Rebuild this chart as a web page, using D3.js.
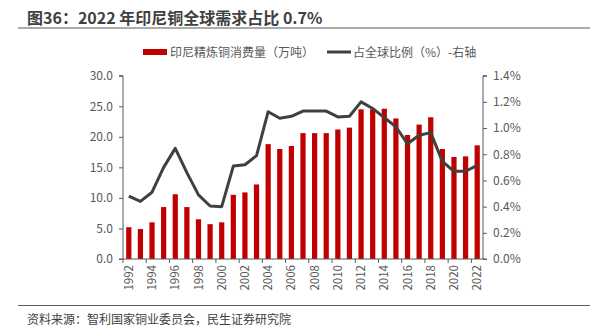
<!DOCTYPE html>
<html lang="zh">
<head>
<meta charset="UTF-8">
<title>图36</title>
<style>
  body { margin: 0; padding: 0; background: #fff; }
  svg { display: block; font-family: "Noto Sans CJK SC", "Noto Sans", sans-serif; }
</style>
</head>
<body>
<svg id="chart"></svg>
<script src="https://d3js.org/d3.v7.min.js"></script>
<script>
// data
const years = d3.range(1992, 2023);
const consumption = [5.2, 4.9, 6.0, 8.5, 10.6, 8.5, 6.5, 5.7, 6.0, 10.5, 10.9, 12.2, 18.8, 18.0, 18.5,
  20.6, 20.6, 20.6, 21.2, 21.5, 24.5, 24.5, 24.6, 23.0, 20.3, 22.0, 23.2, 18.0, 16.7, 16.8, 18.6];
const share = [0.48, 0.44, 0.51, 0.70, 0.845, 0.66, 0.49, 0.405, 0.40, 0.71, 0.72, 0.79, 1.125, 1.075, 1.09,
  1.13, 1.13, 1.13, 1.085, 1.09, 1.20, 1.15, 1.08, 1.01, 0.88, 0.945, 0.965, 0.745, 0.67, 0.67, 0.715];
const leftTicks = [0, 5, 10, 15, 20, 25, 30];
const rightTicks = [0, 0.2, 0.4, 0.6, 0.8, 1.0, 1.2, 1.4];

const width = 602, height = 336;
const plotL = 123, plotR = 483, plotT = 75.7, plotB = 259;
const grey = "#595959";

const svg = d3.select("#chart").attr("width", width).attr("height", height);

// title + rules
svg.append("text").attr("x", 27).attr("y", 24)
  .attr("font-size", 16).attr("font-weight", "bold").attr("fill", "#404040")
  .text("图36：2022 年印尼铜全球需求占比 0.7%");
svg.append("line").attr("x1", 18).attr("x2", 590).attr("y1", 28).attr("y2", 28)
  .attr("stroke", "#595959").attr("stroke-width", 1.2);
svg.append("line").attr("x1", 18).attr("x2", 590).attr("y1", 305.5).attr("y2", 305.5)
  .attr("stroke", "#595959").attr("stroke-width", 1.2);
svg.append("text").attr("x", 27).attr("y", 324)
  .attr("font-size", 12).attr("fill", "#404040")
  .text("资料来源：智利国家铜业委员会，民生证券研究院");

// scales
const x = d3.scaleBand().domain(years).range([plotL, plotR]).padding(0);
const barW = x.step() * 0.45;
const y = d3.scaleLinear().domain([0, 30]).range([plotB, plotT]);
const y2 = d3.scaleLinear().domain([0, 1.4]).range([plotB, plotT]);

// bars
svg.append("g").selectAll("rect")
  .data(years)
  .join("rect")
  .attr("x", d => x(d) + (x.step() - barW) / 2)
  .attr("width", barW)
  .attr("y", (d, i) => y(consumption[i]))
  .attr("height", (d, i) => plotB - y(consumption[i]))
  .attr("fill", "#c00000");

// line
const line = d3.line()
  .x((d, i) => x(years[i]) + x.step() / 2)
  .y(d => y2(d));
svg.append("path").datum(share)
  .attr("d", line)
  .attr("fill", "none")
  .attr("stroke", "#404040")
  .attr("stroke-width", 3)
  .attr("stroke-linejoin", "round");

// axes
const yAxis = svg.append("g").attr("transform", `translate(${plotL},0)`)
  .call(d3.axisLeft(y).tickValues(leftTicks).tickFormat(d3.format(".1f")).tickSize(4).tickPadding(6));
const y2Axis = svg.append("g").attr("transform", `translate(${plotR},0)`)
  .call(d3.axisRight(y2).tickValues(rightTicks).tickFormat(d => d.toFixed(1) + "%").tickSize(4).tickPadding(6));

const evenYears = years.filter(d => d % 2 === 0);
const xAxis = svg.append("g").attr("transform", `translate(0,${plotB})`)
  .call(d3.axisBottom(x).tickValues(evenYears).tickSize(0));
xAxis.selectAll(".tick text")
  .attr("transform", "rotate(-90)")
  .attr("text-anchor", "end")
  .attr("x", -6).attr("y", 0)
  .attr("dy", "0.35em");
// tick marks at band edges every 2 years
xAxis.append("g").selectAll("line")
  .data(evenYears)
  .join("line")
  .attr("x1", d => x(d)).attr("x2", d => x(d))
  .attr("y1", 0).attr("y2", 4)
  .attr("stroke", grey);

[yAxis, y2Axis, xAxis].forEach(g => {
  g.select(".domain").attr("stroke", grey);
  g.selectAll(".tick line").attr("stroke", grey);
  g.selectAll("text").attr("fill", grey).attr("font-size", 12)
    .attr("font-family", "\"Noto Sans CJK SC\", sans-serif");
});
y2Axis.select(".domain").attr("d", `M4,${plotT}H0V${plotB}H4`);
yAxis.select(".domain").attr("d", `M-4,${plotT}H0V${plotB}H-4`);
xAxis.select(".domain").attr("d", `M${plotL},0H${plotR}`);
xAxis.selectAll(".tick text").attr("font-size", 11.5);

// legend
const lg = svg.append("g").attr("font-size", 12);
lg.append("rect").attr("x", 143).attr("y", 49).attr("width", 24).attr("height", 6).attr("fill", "#c00000");
lg.append("text").attr("x", 170).attr("y", 56.5).attr("fill", grey).text("印尼精炼铜消费量（万吨）");
lg.append("line").attr("x1", 327).attr("x2", 351).attr("y1", 52).attr("y2", 52)
  .attr("stroke", "#404040").attr("stroke-width", 3);
lg.append("text").attr("x", 353).attr("y", 56.5).attr("fill", grey).text("占全球比例（%）-右轴");
</script>
</body>
</html>
